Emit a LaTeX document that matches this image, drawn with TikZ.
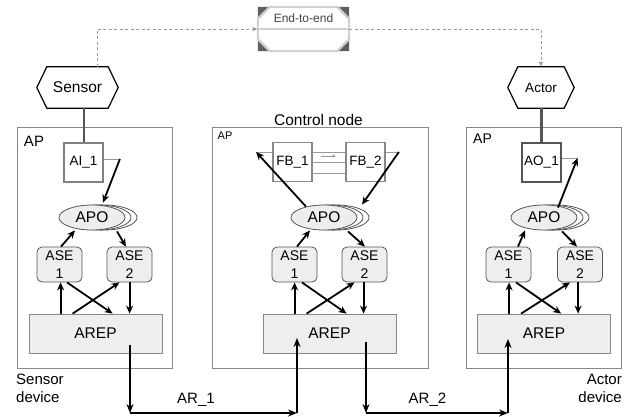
\documentclass[tikz,border=0pt]{standalone}
\usepackage{fontspec}
\setmainfont{Liberation Sans}
\usetikzlibrary{arrows.meta,shapes.geometric,calc}
\definecolor{boxgray}{HTML}{888888}
\definecolor{fillgray}{HTML}{EEEEEE}
\definecolor{dgray}{HTML}{555555}
\definecolor{lgray}{HTML}{999999}
\definecolor{octline}{HTML}{D0D0D0}
\definecolor{cornergray}{HTML}{5E5E5E}
\definecolor{e2etext}{HTML}{444444}
\newcommand\myfs[1]{\fontsize{#1}{18}\selectfont}
\newcommand\colbody[5]{%
 \node[arepsty] (arep#1) at (#2,333.5) {AREP};
 \node[asesty] (asea#1) at (#4,264.5) {ASE\\1};
 \node[asesty] (aseb#1) at (#5,264.5) {ASE\\2};
 \node[apoback] (apoc#1) at (#3+12,217.5) {};
 \node[apoback] (apob#1) at (#3+6,217.5) {};
 \node[apofront] (apo#1) at (#3,217.5) {APO};
 \coordinate (pa#1) at ([xshift=32pt]arep#1.north west);
 \coordinate (pb#1) at ([xshift=44pt]arep#1.north west);
 \coordinate (pc#1) at ([xshift=84pt]arep#1.north west);
 \coordinate (pd#1) at ([xshift=101pt]arep#1.north west);
 \draw[arr] (pa#1) -- (pa#1 |- asea#1.south);
 \draw[arr] (pb#1) -- ([xshift=-10pt]aseb#1.south);
 \draw[arr] ([xshift=7.5pt]asea#1.south) -- (pc#1);
 \draw[arr] (pd#1 |- aseb#1.south) -- (pd#1);
}
\begin{document}
\begin{tikzpicture}[x=1pt,y=-1pt,
  arr/.style={-{Stealth[length=8pt,width=7pt]}, line width=1.8pt},
  bigarr/.style={-{Stealth[length=9pt,width=7pt]}, line width=2pt},
  apbox/.style={draw=boxgray, line width=0.9pt, inner sep=0pt},
  fbbox/.style={draw=boxgray, line width=1.8pt, fill=white, inner sep=0pt, minimum width=39pt, minimum height=39pt, font=\myfs{13.5}},
  asesty/.style={draw=dgray, fill=fillgray, rounded corners=5pt, line width=0.8pt, minimum width=45pt, minimum height=35pt, inner sep=0pt, align=center, font=\fontsize{14}{18}\selectfont},
  apofront/.style={ellipse, draw=dgray, fill=fillgray, line width=0.8pt, minimum width=66pt, minimum height=25pt, inner sep=0pt, font=\myfs{15.5}},
  apoback/.style={ellipse, draw=dgray, fill=white, line width=0.8pt, minimum width=66pt, minimum height=25pt, inner sep=0pt},
  arepsty/.style={draw=boxgray, fill=fillgray, line width=0.8pt, minimum width=133pt, minimum height=39pt, inner sep=0pt, font=\myfs{15.5}},
  lbl/.style={inner sep=0pt, font=\myfs{15}},
  gline/.style={draw=lgray, line width=0.9pt},
  dashline/.style={draw=lgray, dash pattern=on 3pt off 2.5pt, line width=0.9pt, -{Latex[length=5pt,width=4.5pt]}},
  hexline/.style={line width=1.2pt}
]
\useasboundingbox (0,0) rectangle (633,416);

% AP boxes
\node[apbox, minimum width=155pt, minimum height=241pt] (apL) at (94.5,247.5) {};
\node[apbox, minimum width=216pt, minimum height=241pt] (apM) at (320,247.5) {};
\node[apbox, minimum width=155pt, minimum height=241pt] (apR) at (543.5,247.5) {};
\node[lbl] (apLt) at (34,141) {AP};
\node[lbl, font=\myfs{11}] (apMt) at (225,136) {AP};
\node[lbl, font=\myfs{14}] (apRt) at (482.5,139) {AP};
\node[lbl, font=\myfs{15.5}] (ctrl) at (318.5,120) {Control node};

% End-to-end
\node[inner sep=0pt, minimum width=91pt, minimum height=44pt, fill=white] (e2e) at (303.5,29) {};
\fill[cornergray] (e2e.north west) -- ++(13,0) -- ++(-13,13) -- cycle;
\fill[cornergray] (e2e.north east) -- ++(-13,0) -- ++(13,13) -- cycle;
\fill[cornergray] (e2e.south west) -- ++(13,0) -- ++(-13,-13) -- cycle;
\fill[cornergray] (e2e.south east) -- ++(-13,0) -- ++(13,-13) -- cycle;
\draw[draw=octline, line width=2pt]
  ([xshift=12pt]e2e.north west) -- ([xshift=-12pt]e2e.north east) -- ([yshift=-12pt]e2e.north east)
  -- ([yshift=12pt]e2e.south east) -- ([xshift=-12pt]e2e.south east) -- ([xshift=12pt]e2e.south west)
  -- ([yshift=12pt]e2e.south west) -- ([yshift=-12pt]e2e.north west) -- cycle;
\draw[draw=octline, line width=1.5pt] (e2e.west) -- (e2e.east);
\node[inner sep=0pt, text=e2etext, font=\myfs{12}] (e2et) at ($(e2e.center)+(0,-11)$) {End-to-end};

% Sensor / Actor
\node[inner sep=0pt, minimum width=81pt, minimum height=41pt, font=\myfs{15.5}] (sensor) at (77.5,87.5) {Sensor};
\draw[hexline] ([xshift=10pt]sensor.north west) -- ([xshift=-10pt]sensor.north east) -- (sensor.east)
  -- ([xshift=-10pt]sensor.south east) -- ([xshift=10pt]sensor.south west) -- (sensor.west) -- cycle;
\node[inner sep=0pt, minimum width=66pt, minimum height=41pt, font=\myfs{13.5}] (actor) at (541,87.5) {Actor};
\draw[hexline] ([xshift=10pt]actor.north west) -- ([xshift=-10pt]actor.north east) -- (actor.east)
  -- ([xshift=-10pt]actor.south east) -- ([xshift=10pt]actor.south west) -- (actor.west) -- cycle;
\draw[dashline] ([xshift=19.5pt]sensor.north) |- (e2e.west);
\draw[dashline] (e2e.east) -| (actor.north);

% column bodies
\colbody{L}{95.5}{92}{59.5}{129.5}
\colbody{M}{329.5}{324}{294.5}{364.5}
\colbody{R}{544}{544}{508.5}{580}

% ASE <-> APO arrows
\draw[arr] ([xshift=1.5pt]aseaL.north) -- ([xshift=-17pt]apoL.south);
\draw[arr] ([xshift=25pt,yshift=-1pt]apoL.south) -- ([xshift=-3.5pt]asebL.north);
\draw[arr] ([xshift=2.5pt]aseaM.north) -- ([xshift=-14pt]apoM.south);
\draw[arr] ([xshift=24pt,yshift=-1pt]apoM.south) -- ([xshift=0.5pt]asebM.north);
\draw[arr] ([xshift=9.5pt]aseaR.north) -- ([xshift=-19pt]apoR.south);
\draw[arr] ([xshift=18pt,yshift=-1pt]apoR.south) -- ([xshift=-3pt]asebR.north);

% Left top
\node[fbbox, draw=gray] (ai1) at (83.5,162.5) {AI\_1};
\draw[draw=dgray, line width=2pt] (ai1.north |- sensor.south) -- (ai1.north);
\draw[gline] ([yshift=3.5pt]ai1.east) -- ++(16,0) coordinate (ai1o);
\draw[arr] (ai1o) -- ([xshift=11pt,yshift=2pt]apoL.north);

% Middle top
\node[fbbox] (fb1) at (292.5,162) {FB\_1};
\node[fbbox] (fb2) at (365.5,162) {FB\_2};
\draw[gline] ([yshift=10pt]fb1.east) -- ([yshift=10pt]fb2.west);
\draw[gline] (fb1.east) -- (fb2.west);
\draw[gline] ([yshift=-11pt]fb1.east) -- ([yshift=-11pt]fb2.west);
\draw[gline] ([yshift=10pt]fb1.west) -- ++(-16,0) coordinate (fbin);
\draw[gline] ([yshift=10pt]fb2.east) -- ++(13,0) coordinate (fbout);
\draw[draw=lgray, line width=0.8pt, -{Stealth[length=4pt,width=3pt]}] ([xshift=8pt,yshift=6pt]fb1.east) -- ([xshift=-9pt,yshift=6pt]fb2.west);
\draw[arr] ([xshift=-18pt,yshift=-2pt]apoM.north) -- (fbin);
\draw[arr] (fbout) -- ([xshift=38pt]apoM.north);

% Right top
\node[fbbox, draw=dgray, line width=1.2pt] (ao1) at (541.5,162.5) {AO\_1};
\draw[draw=dgray, line width=3pt] (ao1.north |- actor.south) -- (ao1.north);
\draw[gline] ([yshift=4.5pt]ao1.east) -- ++(16,0) coordinate (ao1i);
\draw[arr] ([xshift=14pt,yshift=-3pt]apoR.north) -- (ao1i);

% AR connections
\coordinate (base) at (0,413);
\coordinate (o1) at ($(arepL.center)+(34.5,11.5)$);
\coordinate (i1) at ($(arepM.center)+(-32.5,4.5)$);
\coordinate (o2) at ($(arepM.center)+(36.5,8.5)$);
\coordinate (i2) at ($(arepR.center)+(-36,5.5)$);
\draw[bigarr] (o1) -- (o1 |- base);
\draw[bigarr] (o1 |- base) -- (i1 |- base);
\draw[bigarr] (i1 |- base) -- (i1);
\draw[bigarr] (o2) -- (o2 |- base);
\draw[bigarr] (o2 |- base) -- (i2 |- base);
\draw[bigarr] (i2 |- base) -- (i2);
\node[lbl] (ar1) at (196,400) {AR\_1};
\node[lbl] (ar2) at (427.5,400) {AR\_2};

% device labels
\node[lbl, align=left, anchor=west, font=\fontsize{15}{18}\selectfont] (sdev) at (16,388) {Sensor\\device};
\node[lbl, align=right, anchor=east, font=\fontsize{15}{18}\selectfont] (adev) at (622,388) {Actor\\device};
\end{tikzpicture}
\end{document}
